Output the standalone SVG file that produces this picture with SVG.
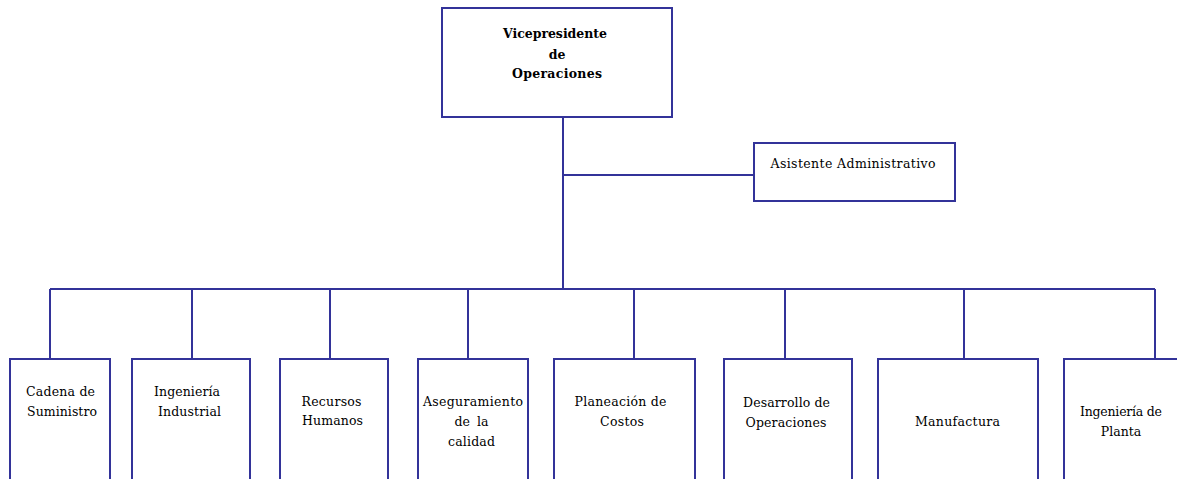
<svg xmlns="http://www.w3.org/2000/svg" width="1177" height="479" viewBox="0 0 1177 479">
<style>
.box{fill:#fff;stroke:#333399;stroke-width:2}
.ln{fill:none;stroke:#333399;stroke-width:2}
text{fill:#000;text-anchor:middle;font-family:'DejaVu Serif','Liberation Serif',serif}
.t{font-size:12.5px}
.b{font-size:12.5px;font-weight:bold}
</style>
<rect width="1177" height="479" fill="#fff"/>
<g id="connectors">
<path class="ln" d="M563 117V289M563 175H754M50 289H1155M50 289V359M192 289V359M330 289V359M468 289V359M634 289V359M785 289V359M964 289V359M1155 289V359"/>
</g>
<g id="vp">
<rect class="box" x="442" y="8" width="230" height="109"/>
<text class="b" x="555" y="38" textLength="104">Vicepresidente</text>
<text class="b" x="557" y="59">de</text>
<text class="b" x="557" y="78" textLength="90">Operaciones</text>
</g>
<g id="asistente">
<rect class="box" x="754" y="143" width="201" height="58"/>
<text class="t" x="853" y="168" textLength="165">Asistente Administrativo</text>
</g>
<g id="cadena">
<rect class="box" x="10" y="359" width="100" height="130"/>
<text class="t" x="60.5" y="396" textLength="69">Cadena de</text>
<text class="t" x="62" y="415.5" textLength="70">Suministro</text>
</g>
<g id="ingind">
<rect class="box" x="132" y="359" width="118" height="130"/>
<text class="t" x="187" y="396" textLength="66">Ingeniería</text>
<text class="t" x="189.5" y="415.5" textLength="63">Industrial</text>
</g>
<g id="rrhh">
<rect class="box" x="280" y="359" width="108" height="130"/>
<text class="t" x="331.5" y="405.5" textLength="60">Recursos</text>
<text class="t" x="332.5" y="425" textLength="61">Humanos</text>
</g>
<g id="calidad">
<rect class="box" x="418" y="359" width="110" height="130"/>
<text class="t" x="473" y="406" textLength="100">Aseguramiento</text>
<text class="t" x="471.5" y="426" word-spacing="3">de la</text>
<text class="t" x="471.5" y="445.5" textLength="47">calidad</text>
</g>
<g id="costos">
<rect class="box" x="554" y="359" width="141" height="130"/>
<text class="t" x="620.5" y="406" textLength="92">Planeación de</text>
<text class="t" x="622" y="426" textLength="44">Costos</text>
</g>
<g id="desarrollo">
<rect class="box" x="724" y="359" width="128" height="130"/>
<text class="t" x="786.5" y="406.5" textLength="87">Desarrollo de</text>
<text class="t" x="786" y="426.5" textLength="81">Operaciones</text>
</g>
<g id="manufactura">
<rect class="box" x="878" y="359" width="160" height="130"/>
<text class="t" x="957.5" y="425.5" textLength="85">Manufactura</text>
</g>
<g id="ingplanta">
<rect class="box" x="1064" y="359" width="130" height="130"/>
<text class="t" x="1121" y="416" textLength="82">Ingeniería de</text>
<text class="t" x="1121" y="435.5">Planta</text>
</g>
</svg>
